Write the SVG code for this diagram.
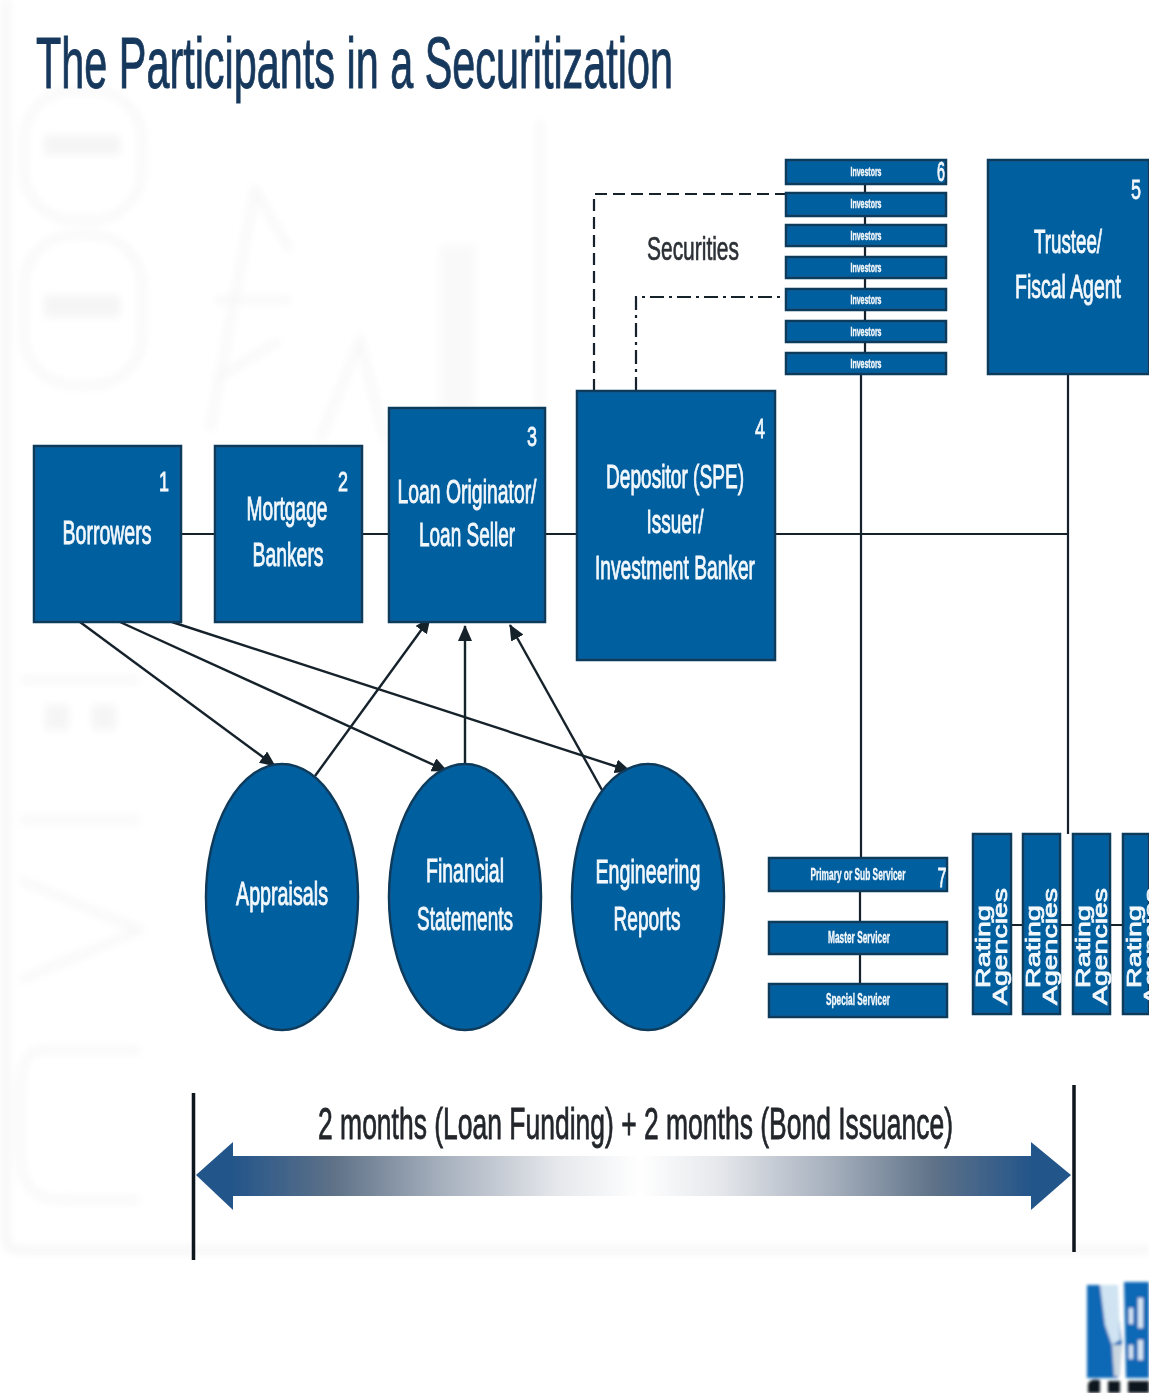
<svg xmlns="http://www.w3.org/2000/svg" width="1149" height="1393" viewBox="0 0 1149 1393">
<style>
text{font-family:"Liberation Sans",Arial,sans-serif}
.b{fill:#05609f;stroke:#103a5c;stroke-width:2.500}
.t{fill:#f2f8fc;stroke:#f2f8fc;stroke-width:.9;font-size:33px;text-anchor:middle}
.n{fill:#f2f8fc;stroke:#f2f8fc;stroke-width:.8;font-size:27px;text-anchor:middle}
.i{fill:#f2f8fc;stroke:#f2f8fc;stroke-width:.4;font-size:13px;font-weight:bold;text-anchor:middle}
.s{fill:#f2f8fc;stroke:#f2f8fc;stroke-width:.4;font-size:17px;font-weight:bold;text-anchor:middle}
.r{fill:#f2f8fc;stroke:#f2f8fc;stroke-width:.7;font-size:21px}
.l{fill:none;stroke:#15212c;stroke-width:2.200}
.a{fill:none;stroke:#15212c;stroke-width:2.400;marker-end:url(#ah)}
.bar{fill:none;stroke:#10161c;stroke-width:3.500}
.w{fill:none;stroke:#f6f6f6;stroke-width:6}
.wf{fill:#f5f5f5}
</style>
<defs>
<marker id="ah" markerUnits="userSpaceOnUse" markerWidth="16" markerHeight="14" refX="15" refY="7" orient="auto"><path d="M0 0L16 7L0 14z" fill="#15212c"/></marker>
<linearGradient id="gl" x1="233" x2="640" y1="0" y2="0" gradientUnits="userSpaceOnUse"><stop offset="0" stop-color="#24558a"/><stop offset=".25" stop-color="#5f7288"/><stop offset=".5" stop-color="#a3adbb"/><stop offset=".8" stop-color="#e6e8ec"/><stop offset="1" stop-color="#fff"/></linearGradient>
<linearGradient id="gr" x1="640" x2="1031" y1="0" y2="0" gradientUnits="userSpaceOnUse"><stop offset="0" stop-color="#fff"/><stop offset=".2" stop-color="#e6e8ec"/><stop offset=".5" stop-color="#a3adbb"/><stop offset=".75" stop-color="#5f7288"/><stop offset="1" stop-color="#24558a"/></linearGradient>
<filter id="soft" filterUnits="userSpaceOnUse" x="0" y="0" width="1149" height="1393"><feGaussianBlur stdDeviation="4"/></filter>
<filter id="logo" filterUnits="userSpaceOnUse" x="1050" y="1260" width="99" height="133"><feGaussianBlur stdDeviation="1.800"/></filter>
<filter id="fine" filterUnits="userSpaceOnUse" x="0" y="0" width="1149" height="1393"><feGaussianBlur stdDeviation=".6"/></filter>
</defs>
<rect width="1149" height="1393" fill="#fff"/>
<g id="background" filter="url(#soft)">
<path d="M6 0V1240Q6 1250 18 1250H1149" fill="none" stroke="#f1f1f1" stroke-width="5"/>
<rect class="w" x="24" y="90" width="118" height="130" rx="50"/>
<rect class="w" x="24" y="235" width="118" height="150" rx="50"/>
<rect class="wf" x="44" y="135" width="76" height="20"/>
<rect class="wf" x="44" y="295" width="76" height="22"/>
<path class="w" d="M20 680H140M20 820H140M20 880L140 930L20 980M140 1050H40Q20 1050 20 1100V1150Q20 1200 60 1200H140" stroke-width="10"/>
<rect class="wf" x="45" y="705" width="24" height="25"/><rect class="wf" x="92" y="705" width="24" height="25"/>
<path class="w" d="M210 430L255 190L290 250M215 300L290 300M215 380L280 340"/>
<rect x="440" y="245" width="36" height="200" fill="#f9f9f9"/>
<path class="w" d="M320 440L360 340L385 440M540 120V440"/>
</g>
<g id="diagram" filter="url(#fine)">
<text id="title" x="36" y="88" font-size="72" fill="#18395c" stroke="#18395c" stroke-width="1" textLength="637" lengthAdjust="spacingAndGlyphs">The Participants in a Securitization</text>
<g id="connectors">
<path class="l" d="M181 534H215M362 534H389M545 534H577M775 534H1068"/>
<path class="l" d="M861 374V858M860 891V922M860 954V984M1068 374V834M865 184V353M1011 925H1023M1060 925H1073M1110 925H1123"/>
<path class="l" d="M594 391V194H786" stroke-dasharray="12 6"/>
<path class="l" d="M636 391V297H786" stroke-dasharray="14 5 3 5"/>
<path class="a" d="M80 622L275 766"/>
<path class="a" d="M120 622L447 771"/>
<path class="a" d="M172 622L630 771"/>
<path class="a" d="M315 776L430 618"/>
<path class="a" d="M465 764V626"/>
<path class="a" d="M602 790L510 625"/>
</g>
<g id="n1"><rect class="b" x="34" y="446" width="147" height="176"/><text class="n" x="164" y="491" textLength="10" lengthAdjust="spacingAndGlyphs">1</text><text class="t" x="107" y="544" textLength="89" lengthAdjust="spacingAndGlyphs">Borrowers</text></g>
<g id="n2"><rect class="b" x="215" y="446" width="147" height="176"/><text class="n" x="343" y="491" textLength="10" lengthAdjust="spacingAndGlyphs">2</text><text class="t" x="287" y="520" textLength="81" lengthAdjust="spacingAndGlyphs">Mortgage</text><text class="t" x="288" y="566" textLength="71" lengthAdjust="spacingAndGlyphs">Bankers</text></g>
<g id="n3"><rect class="b" x="389" y="408" width="156" height="214"/><text class="n" x="532" y="446" textLength="10" lengthAdjust="spacingAndGlyphs">3</text><text class="t" x="467" y="503" textLength="139" lengthAdjust="spacingAndGlyphs">Loan Originator/</text><text class="t" x="467" y="546" textLength="96" lengthAdjust="spacingAndGlyphs">Loan Seller</text></g>
<g id="n4"><rect class="b" x="577" y="391" width="198" height="269"/><text class="n" x="760" y="438" textLength="10" lengthAdjust="spacingAndGlyphs">4</text><text class="t" x="675" y="488" textLength="138" lengthAdjust="spacingAndGlyphs">Depositor (SPE)</text><text class="t" x="675" y="533" textLength="57" lengthAdjust="spacingAndGlyphs">Issuer/</text><text class="t" x="675" y="579" textLength="160" lengthAdjust="spacingAndGlyphs">Investment Banker</text></g>
<g id="n5"><rect class="b" x="988" y="160" width="161" height="214"/><text class="n" x="1136" y="199" textLength="10" lengthAdjust="spacingAndGlyphs">5</text><text class="t" x="1068" y="253" textLength="68" lengthAdjust="spacingAndGlyphs">Trustee/</text><text class="t" x="1068" y="298" textLength="106" lengthAdjust="spacingAndGlyphs">Fiscal Agent</text></g>
<g id="n6">
<rect class="b" x="786" y="160" width="160" height="24"/><rect class="b" x="786" y="193" width="160" height="23"/><rect class="b" x="786" y="225" width="160" height="21"/><rect class="b" x="786" y="257" width="160" height="21"/><rect class="b" x="786" y="289" width="160" height="21"/><rect class="b" x="786" y="321" width="160" height="21"/><rect class="b" x="786" y="353" width="160" height="21"/>
<text class="n" x="941" y="181" textLength="8" lengthAdjust="spacingAndGlyphs">6</text>
<text class="i" x="866" y="176" textLength="31" lengthAdjust="spacingAndGlyphs">Investors</text><text class="i" x="866" y="208" textLength="31" lengthAdjust="spacingAndGlyphs">Investors</text><text class="i" x="866" y="240" textLength="31" lengthAdjust="spacingAndGlyphs">Investors</text><text class="i" x="866" y="272" textLength="31" lengthAdjust="spacingAndGlyphs">Investors</text><text class="i" x="866" y="304" textLength="31" lengthAdjust="spacingAndGlyphs">Investors</text><text class="i" x="866" y="336" textLength="31" lengthAdjust="spacingAndGlyphs">Investors</text><text class="i" x="866" y="368" textLength="31" lengthAdjust="spacingAndGlyphs">Investors</text>
</g>
<g id="n7">
<rect class="b" x="769" y="858" width="178" height="33"/><rect class="b" x="769" y="922" width="178" height="32"/><rect class="b" x="769" y="984" width="178" height="33"/>
<text class="n" x="942" y="887" textLength="9" lengthAdjust="spacingAndGlyphs">7</text>
<text class="s" x="858" y="880" textLength="95" lengthAdjust="spacingAndGlyphs">Primary or Sub Servicer</text><text class="s" x="859" y="943" textLength="62" lengthAdjust="spacingAndGlyphs">Master Servicer</text><text class="s" x="858" y="1005" textLength="64" lengthAdjust="spacingAndGlyphs">Special Servicer</text>
</g>
<g id="n8"><rect class="b" x="973" y="834" width="38" height="180"/><text class="r" transform="translate(990 988) rotate(-90)" textLength="83" lengthAdjust="spacingAndGlyphs">Rating</text><text class="r" transform="translate(1007 1005) rotate(-90)" textLength="117" lengthAdjust="spacingAndGlyphs">Agencies</text></g>
<g id="n9"><rect class="b" x="1023" y="834" width="37" height="180"/><text class="r" transform="translate(1040 988) rotate(-90)" textLength="83" lengthAdjust="spacingAndGlyphs">Rating</text><text class="r" transform="translate(1057 1005) rotate(-90)" textLength="117" lengthAdjust="spacingAndGlyphs">Agencies</text></g>
<g id="n10"><rect class="b" x="1073" y="834" width="37" height="180"/><text class="r" transform="translate(1090 988) rotate(-90)" textLength="83" lengthAdjust="spacingAndGlyphs">Rating</text><text class="r" transform="translate(1107 1005) rotate(-90)" textLength="117" lengthAdjust="spacingAndGlyphs">Agencies</text></g>
<g id="n11"><rect class="b" x="1123" y="834" width="26" height="180"/><text class="r" transform="translate(1141 988) rotate(-90)" textLength="83" lengthAdjust="spacingAndGlyphs">Rating</text><text class="r" transform="translate(1158 1005) rotate(-90)" textLength="117" lengthAdjust="spacingAndGlyphs">Agencies</text></g>
<g id="n12"><ellipse class="b" cx="282" cy="897" rx="76" ry="133"/><text class="t" x="282" y="905" textLength="92" lengthAdjust="spacingAndGlyphs">Appraisals</text></g>
<g id="n13"><ellipse class="b" cx="465" cy="897" rx="76" ry="133"/><text class="t" x="465" y="882" textLength="78" lengthAdjust="spacingAndGlyphs">Financial</text><text class="t" x="465" y="930" textLength="96" lengthAdjust="spacingAndGlyphs">Statements</text></g>
<g id="n14"><ellipse class="b" cx="648" cy="897" rx="76" ry="133"/><text class="t" x="648" y="883" textLength="105" lengthAdjust="spacingAndGlyphs">Engineering</text><text class="t" x="647" y="930" textLength="67" lengthAdjust="spacingAndGlyphs">Reports</text></g>
<text id="securities" x="647" y="260" font-size="33" fill="#2c3036" stroke="#2c3036" stroke-width=".7" textLength="92" lengthAdjust="spacingAndGlyphs">Securities</text>
<g id="timeline">
<path class="bar" d="M193.500 1093V1260M1074 1085V1252"/>
<path fill="url(#gl)" d="M233 1156H640V1196H233z"/>
<path fill="url(#gr)" d="M640 1156H1031V1196H640z"/>
<path fill="#24558a" d="M196 1175L233 1142V1210z"/>
<path fill="#24558a" d="M1071 1175L1031 1142V1210z"/>
<text x="318" y="1139" font-size="44" fill="#23272c" stroke="#23272c" stroke-width=".8" textLength="635" lengthAdjust="spacingAndGlyphs">2 months (Loan Funding) + 2 months (Bond Issuance)</text>
</g>
</g>
<g id="logo-mark" filter="url(#logo)">
<path fill="#1167b5" d="M1087 1285H1115L1122 1345L1118 1378H1087z"/>
<path fill="#1167b5" d="M1124 1282H1149V1378H1126z"/>
<path fill="#cfe3f2" d="M1100 1285H1118L1120 1340L1112 1345L1105 1325z"/>
<path fill="#c9d6e0" d="M1112 1345H1122L1120 1376H1114z"/>
<path fill="#d8e9f6" d="M1129 1308h4v16h-4zM1138 1298h5v30h-5zM1129 1345h4v14h-4zM1138 1340h5v20h-5z"/>
<path fill="#10161c" d="M1088 1393V1384Q1090 1378 1100 1380V1393zM1108 1393V1381H1120V1393zM1128 1393V1381H1149V1393z"/>
</g>
</svg>
